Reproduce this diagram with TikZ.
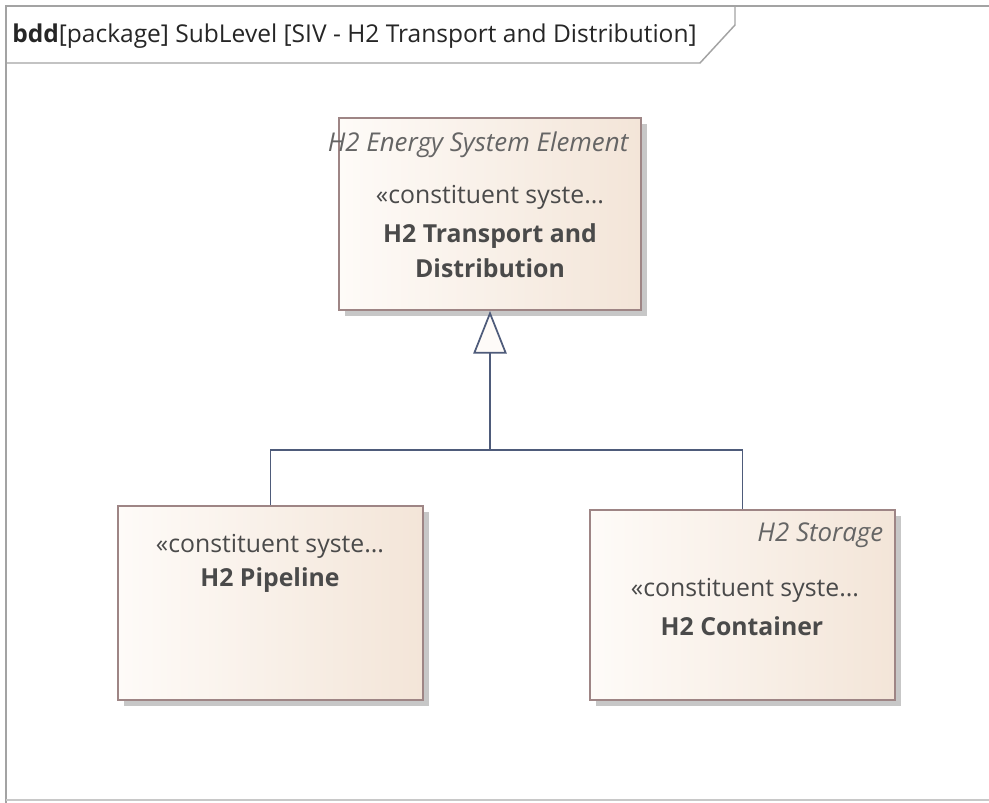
\documentclass[tikz,border=0pt]{standalone}
\usepackage{fontspec}
\setmainfont{Open Sans}
\usetikzlibrary{arrows.meta,shadows,positioning}
\definecolor{blkline}{HTML}{9E8585}
\definecolor{blkleft}{HTML}{FEFBF8}
\definecolor{blkright}{HTML}{F3E5D8}
\definecolor{genline}{HTML}{4E5B7A}
\definecolor{frameline}{HTML}{A3A3A3}
\definecolor{txt}{HTML}{4A4A4A}
\tikzset{
  block/.style={draw=blkline, line width=1.4pt, left color=blkleft, right color=blkright,
    minimum width=#1, inner sep=0pt,
    drop shadow={shadow xshift=4.5pt, shadow yshift=-4.5pt, fill=black!22, opacity=1}},
  stereo/.style={font=\fontsize{18.6}{20}\selectfont, text=txt},
  blkname/.style={font=\fontsize{18.6}{26}\selectfont\bfseries, text=txt, align=center},
  owner/.style={font=\fontsize{19.4}{21}\selectfont\itshape, text=txt!85},
  gen/.style={draw=genline, line width=1.3pt}
}
\begin{document}
\begin{tikzpicture}[x=0.75pt,y=-0.75pt]
     \useasboundingbox[fill=white] (0,0) rectangle (989,803);
     % frame and heading tab
     \draw[frameline, line width=1.6pt] (6,803) -- (6,6) -- (995,6);
     \draw[frameline!60, line width=0.8pt] (6,800) -- (995,800);
     \draw[frameline, line width=1.1pt] (6,63) -- (700,63) -- (735,25) -- (735,6);
     \node[anchor=base west, inner sep=0pt, text=black!85, font=\fontsize{18.4}{20}\selectfont] at (12,42) (head)
        {\textbf{bdd}[package] SubLevel [SIV - H2 Transport and Distribution]};
     % blocks
     \node[block=227pt, minimum height=144pt] at (490,214) (tad) {};
     \node[block=229pt, minimum height=145.5pt] at (270.5,603) (pipe) {};
     \node[block=229pt, minimum height=142.5pt] at (742.5,605) (cont) {};
     \node[owner, anchor=east] at (633,145) (tadown) {H2 Energy System Element};
     \node[stereo] at (490,197) (tadst) {«constituent syste...};
     \node[blkname] at (490,251) (tadnm) {H2 Transport and\\Distribution};
     \node[stereo] at (270,546) (pipest) {«constituent syste...};
     \node[blkname] at (270,580) (pipenm) {H2 Pipeline};
     \node[owner, anchor=east] at (888,535) (contown) {H2 Storage};
     \node[stereo] at (745,590) (contst) {«constituent syste...};
     \node[blkname] at (742,626) (contnm) {H2 Container};
     % generalization
     \coordinate (junc) at (490,450);
     \draw[gen] (cont.north) |- (junc);
     \draw[gen, -{Triangle[open, length=32pt, width=25pt, fill=blkleft]}] (pipe.north) |- (junc) -- (tad.south);
\end{tikzpicture}
\end{document}
